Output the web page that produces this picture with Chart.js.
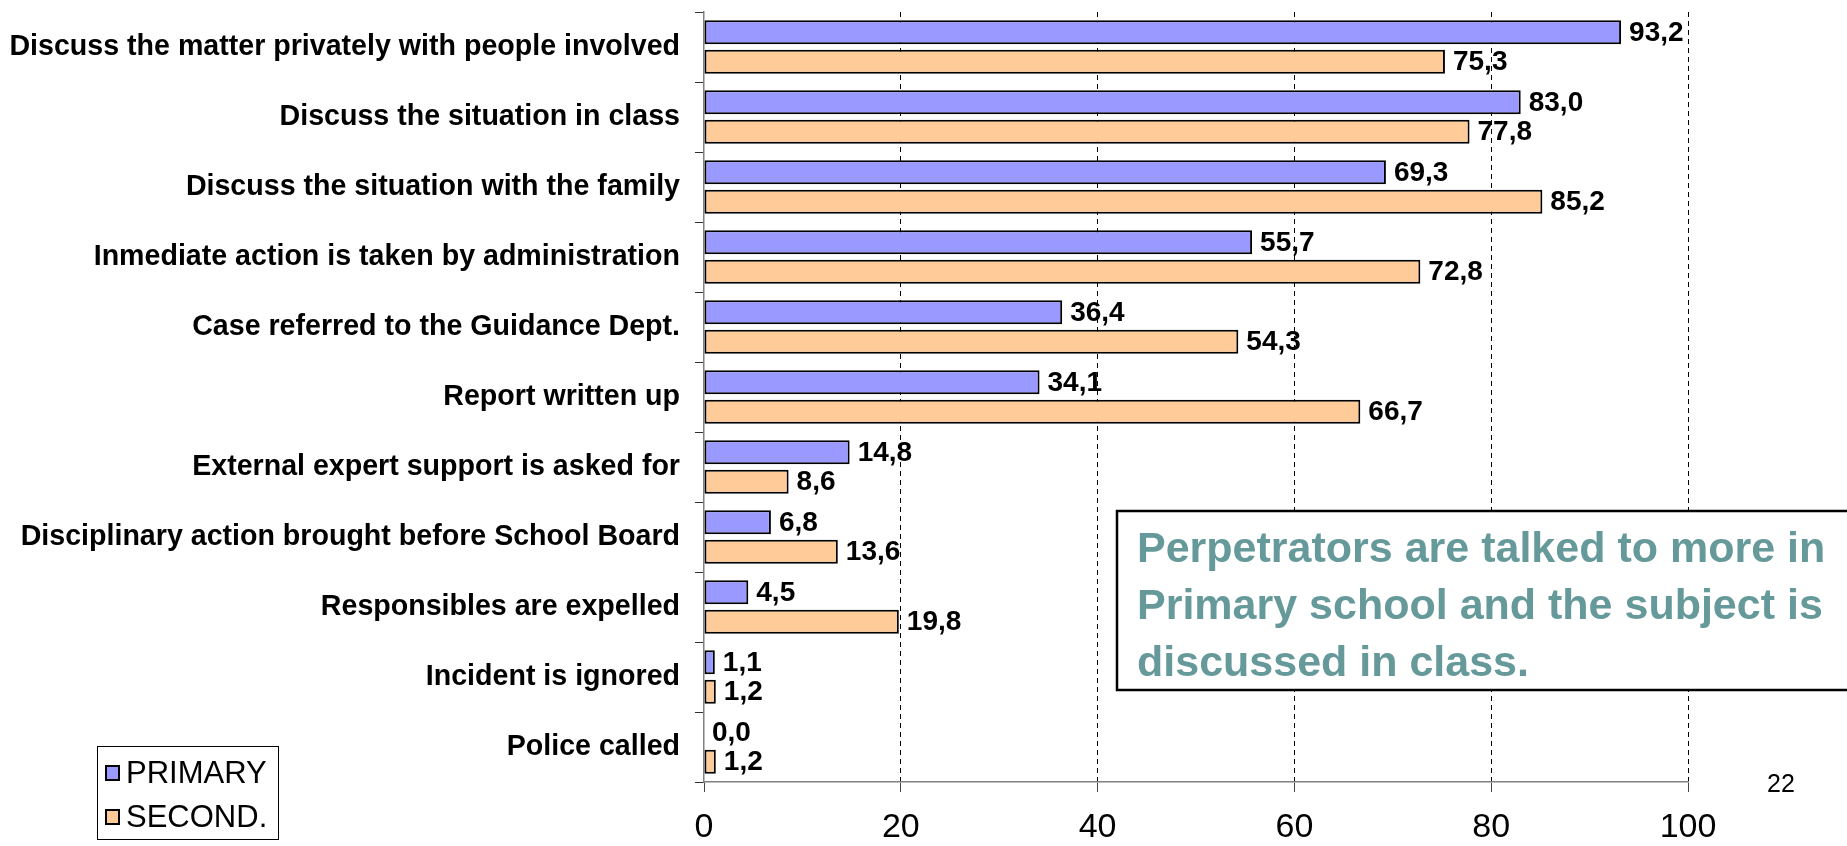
<!DOCTYPE html>
<html>
<head>
<meta charset="utf-8">
<script src="https://cdn.jsdelivr.net/npm/chart.js@4/dist/chart.umd.min.js"></script>
<style>
  html, body { margin: 0; padding: 0; background: #fff; }
  #wrap { width: 1847px; height: 846px; }
</style>
</head>
<body>
<div id="wrap"><canvas id="chart" width="1847" height="846"></canvas></div>
<script>
const categories = [
  "Discuss the matter privately with people involved",
  "Discuss the situation in class",
  "Discuss the situation with the family",
  "Inmediate action is taken by administration",
  "Case referred to the Guidance Dept.",
  "Report written up",
  "External expert support is asked for",
  "Disciplinary action brought before School Board",
  "Responsibles are expelled",
  "Incident is ignored",
  "Police called"
];
const primary = [93.2, 83.0, 69.3, 55.7, 36.4, 34.1, 14.8, 6.8, 4.5, 1.1, 0.0];
const second = [75.3, 77.8, 85.2, 72.8, 54.3, 66.7, 8.6, 13.6, 19.8, 1.2, 1.2];
const seriesNames = ["PRIMARY", "SECOND."];
const xTicks = [0, 20, 40, 60, 80, 100];
const noteLines = [
  "Perpetrators are talked to more in",
  "Primary school and the subject is",
  "discussed in class."
];
const pageNumber = "22";

const FONT = "'Liberation Sans', Arial, sans-serif";

// value labels at the end of every bar
const valueLabels = {
  id: "valueLabels",
  afterDatasetsDraw(chart) {
    const ctx = chart.ctx;
    ctx.save();
    ctx.font = "bold 28px " + FONT;
    ctx.fillStyle = "#000";
    ctx.textAlign = "left";
    ctx.textBaseline = "middle";
    chart.data.datasets.forEach((ds, i) => {
      chart.getDatasetMeta(i).data.forEach((bar, j) => {
        const txt = ds.data[j].toFixed(1).replace(".", ",");
        ctx.fillText(txt, bar.x + 8, bar.y + 1);
      });
    });
    ctx.restore();
  }
};

// note box, legend and page number
const extras = {
  id: "extras",
  afterDraw(chart) {
    const ctx = chart.ctx;
    ctx.save();

    // note box
    ctx.fillStyle = "#fff";
    ctx.fillRect(1117, 511, 740, 179);
    ctx.strokeStyle = "#000";
    ctx.lineWidth = 2.5;
    ctx.strokeRect(1117, 511, 740, 179);
    ctx.fillStyle = "#669999";
    ctx.font = "bold 43px " + FONT;
    ctx.textBaseline = "middle";
    ctx.textAlign = "left";
    noteLines.forEach((line, i) => ctx.fillText(line, 1137, 550 + i * 57));

    // legend
    ctx.fillStyle = "#fff";
    ctx.fillRect(97, 746, 181, 93);
    ctx.strokeStyle = "#000";
    ctx.lineWidth = 1;
    ctx.strokeRect(97.5, 746.5, 181, 93);
    ctx.font = "31px " + FONT;
    chart.data.datasets.forEach((ds, i) => {
      const y = 773 + i * 44;
      ctx.fillStyle = ds.backgroundColor;
      ctx.fillRect(106, y - 7, 13, 14);
      ctx.strokeStyle = "#000";
      ctx.lineWidth = 2;
      ctx.strokeRect(106, y - 7, 13, 14);
      ctx.fillStyle = "#000";
      ctx.fillText(ds.label, 126, y + 1);
    });

    // page number
    ctx.font = "25px " + FONT;
    ctx.fillStyle = "#000";
    ctx.fillText(pageNumber, 1767, 785);
    ctx.restore();
  }
};

new Chart(document.getElementById("chart"), {
  type: "bar",
  data: {
    labels: categories,
    datasets: [
      {
        label: seriesNames[0],
        data: primary,
        backgroundColor: "#9999FF",
        borderColor: "#000",
        borderWidth: 2,
        borderSkipped: false
      },
      {
        label: seriesNames[1],
        data: second,
        backgroundColor: "#FFCC99",
        borderColor: "#000",
        borderWidth: 2,
        borderSkipped: false
      }
    ]
  },
  options: {
    indexAxis: "y",
    responsive: false,
    animation: false,
    devicePixelRatio: 1,
    categoryPercentage: 0.84,
    barPercentage: 0.82,
    layout: { padding: { top: 12, right: 159, left: 0, bottom: 0 } },
    plugins: {
      legend: { display: false },
      tooltip: { enabled: false }
    },
    scales: {
      x: {
        min: 0,
        max: 100,
        afterBuildTicks: (scale) => { scale.ticks = xTicks.map(v => ({ value: v })); },
        afterFit: (scale) => { scale.height = 64; },
        ticks: {
          color: "#000",
          font: { family: FONT, size: 34 },
          padding: 15,
          maxRotation: 0
        },
        grid: {
          color: (c) => (c.tick && c.tick.value === 0) ? "rgba(0,0,0,0)" : "#000",
          tickColor: "#444",
          lineWidth: 1,
          tickLength: 10,
          tickBorderDash: []
        },
        border: {
          color: "#808080",
          width: 1.5,
          dash: [5, 4]
        }
      },
      y: {
        afterFit: (scale) => {
          scale.width = 704;
          scale.paddingTop = 0;
          scale.paddingBottom = 0;
        },
        ticks: {
          color: "#000",
          font: { family: FONT, size: 28.6, weight: "bold" },
          padding: 15,
          autoSkip: false
        },
        grid: {
          drawOnChartArea: false,
          drawTicks: true,
          tickLength: 9,
          color: "#333",
          offset: true
        },
        border: {
          color: "#808080",
          width: 1.5
        }
      }
    }
  },
  plugins: [valueLabels, extras]
});
</script>
</body>
</html>
